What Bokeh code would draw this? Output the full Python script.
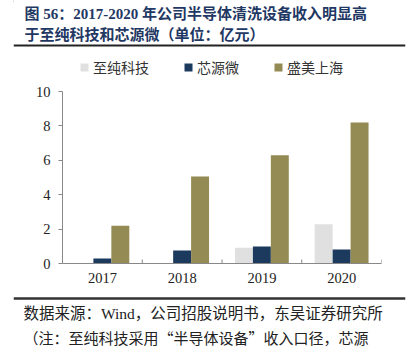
from bokeh.plotting import figure
from bokeh.layouts import column, row
from bokeh.models import (FactorRange, Range1d, ColumnDataSource, Legend, LegendItem,
                          Label, Span)
from bokeh.transform import dodge
from bokeh.embed import file_html
from bokeh.resources import INLINE

years = ["2017", "2018", "2019", "2020"]
zhichun = [0.0, 0.0, 0.91, 2.28]
xinyuan = [0.29, 0.76, 0.99, 0.81]
shengmei = [2.19, 5.06, 6.30, 8.20]
series_names = ["至纯科技", "芯源微", "盛美上海"]
colors = ["#E0E0E0", "#1B3A5E", "#948A54"]
y_ticks = [0, 2, 4, 6, 8, 10]

title1 = "图 56：2017-2020 年公司半导体清洗设备收入明显高"
title2 = "于至纯科技和芯源微（单位：亿元）"
foot1 = "数据来源：Wind，公司招股说明书，东吴证券研究所"
foot2 = "（注：至纯科技采用“半导体设备”收入口径，芯源"

W = 414
HEAD_H, MAIN_H, FOOT_H = 80, 216, 55
RL, RR = 13, 9          # rule inset left / right
tfont = "Liberation Serif, Noto Sans CJK SC"


def blank(h):
    f = figure(width=W, height=h, x_range=Range1d(0, W - RL - RR), y_range=Range1d(h, 0),
               output_backend="svg", toolbar_location=None,
               x_axis_location=None, y_axis_location=None,
               min_border=0, min_border_left=RL, min_border_right=RR,
               min_border_top=0, min_border_bottom=0)
    f.outline_line_color = None
    f.grid.visible = False
    return f


def lab(f, h, cx, cy, text, **kw):
    f.add_layout(Label(x=cx - RL, y=h - cy, x_units="screen", y_units="screen",
                       text=text, text_baseline="middle", **kw))


# ---------- header: title, rule, legend ----------
head = blank(HEAD_H)
lab(head, HEAD_H, 24, 13, title1, text_font=tfont, text_font_size="15px",
    text_font_style="bold", text_color="#1F3864")
lab(head, HEAD_H, 24, 34, title2, text_font=tfont, text_font_size="15px",
    text_font_style="bold", text_color="#1F3864")
head.add_layout(Span(location=45, dimension="width", line_color="#222222", line_width=2))

leg_rs = [head.vbar(x=[-100], top=[1], width=1, fill_color=c, line_color=None)
          for c in colors]
legend = Legend(items=[LegendItem(label=n, renderers=[r]) for n, r in zip(series_names, leg_rs)],
                orientation="horizontal", location=(79 - RL, 3),
                glyph_width=10, glyph_height=10, label_standoff=4, spacing=34,
                padding=0, margin=0, border_line_color=None, background_fill_alpha=0,
                label_text_font="Noto Sans CJK SC", label_text_font_size="14px",
                label_text_color="#333333", label_height=14)
head.add_layout(legend, "center")

# ---------- main chart ----------
src = ColumnDataSource(dict(x=years, a=zhichun, b=xinyuan, c=shengmei))
p = figure(width=W, height=MAIN_H, x_range=FactorRange(*years, range_padding=0),
           y_range=Range1d(0, 10), output_backend="svg", toolbar_location=None,
           min_border_left=62, min_border_right=33, min_border_top=11,
           min_border_bottom=33)
p.outline_line_color = None
p.grid.visible = False

bw = 0.225
for col, off, c in zip(["a", "b", "c"], [-bw, 0, bw], colors):
    p.vbar(x=dodge("x", off, range=p.x_range), top=col, width=bw, source=src,
           fill_color=c, line_color=None)

# category boundary ticks (inside)
p.segment(x0=dodge("x", 0.5, range=p.x_range), x1=dodge("x", 0.5, range=p.x_range),
          y0=0, y1=0.23, source=src, line_color="#888888", line_width=1)

yax = p.yaxis[0]
yax.ticker = y_ticks
yax.axis_line_color = "#888888"
yax.major_tick_line_color = "#888888"
yax.major_tick_out = 4
yax.major_tick_in = 0
yax.minor_tick_line_color = None
yax.major_label_standoff = 8
yax.major_label_text_font = "Liberation Serif"
yax.major_label_text_font_size = "14.5px"
yax.major_label_text_color = "#222222"

xax = p.xaxis[0]
xax.axis_line_color = "#888888"
xax.major_tick_line_color = None
xax.major_tick_out = 0
xax.major_tick_in = 0
xax.major_label_standoff = 9
xax.major_label_text_font = "Liberation Serif"
xax.major_label_text_font_size = "14.5px"
xax.major_label_text_color = "#222222"

# ---------- footer ----------
foot = blank(FOOT_H)
foot.add_layout(Span(location=2, dimension="width", line_color="#333333", line_width=2.5))
lab(foot, FOOT_H, 23, 17, foot1, text_font=tfont, text_font_size="15.5px",
    text_color="#222222")
lab(foot, FOOT_H, 23, 41, foot2, text_font="Noto Sans CJK SC", text_font_size="15px",
    text_color="#222222")

layout = column(row(head), row(p), row(foot), spacing=0)
open("out.html", "w").write(file_html(layout, INLINE))
